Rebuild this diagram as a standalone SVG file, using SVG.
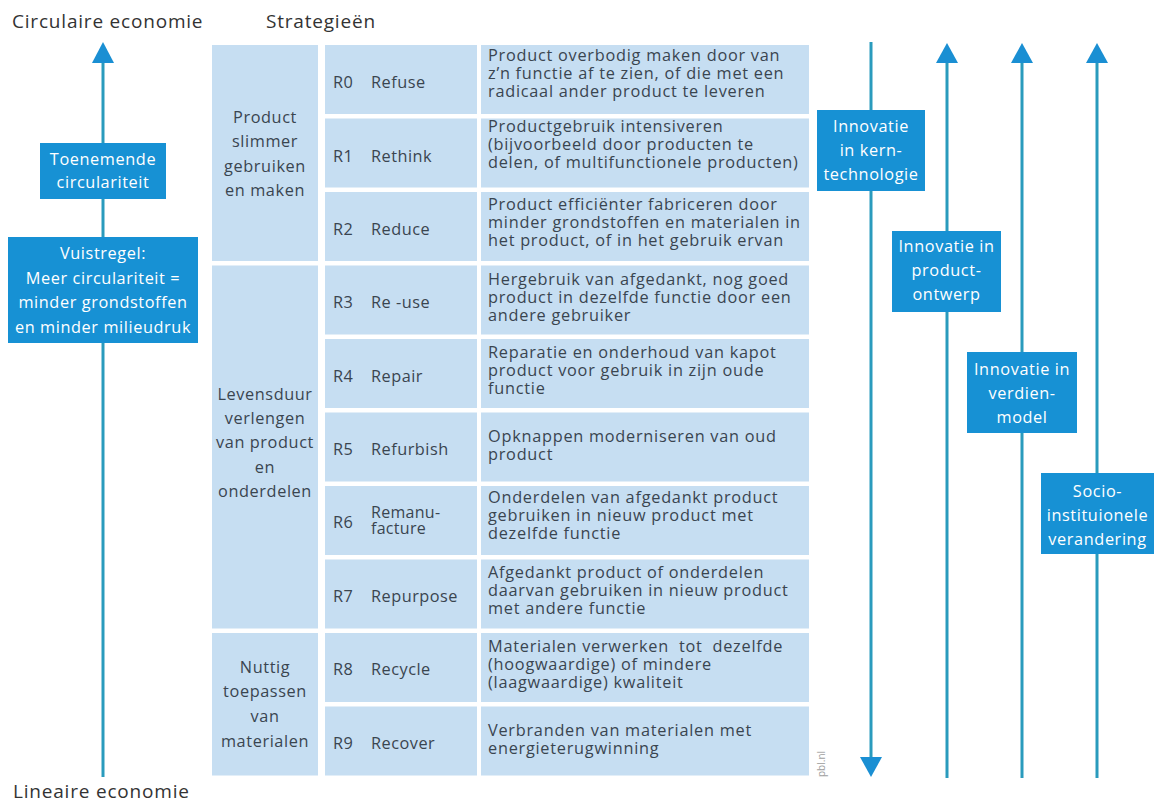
<svg xmlns="http://www.w3.org/2000/svg" width="1173" height="803" viewBox="0 0 1173 803">
<style>
text{font-family:"Open Sans","Noto Sans","DejaVu Sans",sans-serif}
.hdr{font-size:19px;letter-spacing:0.8px;fill:#333}
.cell{fill:#c6def2}
.grp{font-size:16.3px;letter-spacing:0.6px;fill:#3a4550;text-anchor:middle}
.rl{font-size:16.3px;letter-spacing:0.5px;fill:#3a4550}
.rl2{font-size:16px;letter-spacing:0.3px;fill:#3a4550}
.ds{font-size:16.3px;letter-spacing:0.75px;fill:#3a4550}
.box{fill:#1791d4}
.bt{font-size:16.3px;letter-spacing:0.6px;fill:#fff;text-anchor:middle}
.ln{stroke:#2a9bbd;stroke-width:3;fill:none}
.hd{fill:#1a8fd3}
</style>
<rect width="1173" height="803" fill="#fff"/>
<text class="hdr" x="12" y="28">Circulaire economie</text>
<text class="hdr" x="266" y="28">Strategieën</text>
<text class="hdr" x="13" y="798">Lineaire economie</text>

<g id="connectors">
<line class="ln" x1="103" y1="60" x2="103" y2="777"/>
<polygon class="hd" points="92,63 114,63 103,42"/>
<line class="ln" x1="871" y1="42" x2="871" y2="760"/>
<polygon class="hd" points="860,757 882,757 871,777"/>
<line class="ln" x1="947" y1="60" x2="947" y2="778"/>
<polygon class="hd" points="936,63 958,63 947,43"/>
<line class="ln" x1="1022" y1="60" x2="1022" y2="778"/>
<polygon class="hd" points="1011,63 1033,63 1022,43"/>
<line class="ln" x1="1097" y1="60" x2="1097" y2="778"/>
<polygon class="hd" points="1086,63 1108,63 1097,43"/>
</g>

<g id="toenemende">
<rect class="box" x="40" y="143" width="126" height="56"/>
<text class="bt" x="103" y="165">Toenemende<tspan x="103" dy="23">circulariteit</tspan></text>
</g>
<g id="vuistregel">
<rect class="box" x="8" y="237" width="190" height="106"/>
<text class="bt" x="103" y="259">Vuistregel:<tspan x="103" dy="25">Meer circulariteit =</tspan><tspan x="103" dy="24">minder grondstoffen</tspan><tspan x="103" dy="25">en minder milieudruk</tspan></text>
</g>

<g id="group-slimmer">
<rect class="cell" x="212" y="45" width="106" height="216"/>
<text class="grp" x="265" y="123">Product<tspan x="265" dy="24">slimmer</tspan><tspan x="265" dy="25">gebruiken</tspan><tspan x="265" dy="24">en maken</tspan></text>
</g>
<g id="group-levensduur">
<rect class="cell" x="212" y="265.5" width="106" height="363"/>
<text class="grp" x="265" y="400">Levensduur<tspan x="265" dy="24">verlengen</tspan><tspan x="265" dy="24">van product</tspan><tspan x="265" dy="25">en</tspan><tspan x="265" dy="24">onderdelen</tspan></text>
</g>
<g id="group-nuttig">
<rect class="cell" x="212" y="633" width="106" height="142.5"/>
<text class="grp" x="265" y="673">Nuttig<tspan x="265" dy="24">toepassen</tspan><tspan x="265" dy="25">van</tspan><tspan x="265" dy="25">materialen</tspan></text>
</g>

<g id="r0">
<rect class="cell" x="325" y="45" width="152" height="69"/>
<rect class="cell" x="481" y="45" width="328" height="69"/>
<text class="rl" x="333" y="88">R0<tspan x="371">Refuse</tspan></text>
<text class="ds" x="488" y="61">Product overbodig maken door van<tspan x="488" dy="18">z’n functie af te zien, of die met een</tspan><tspan x="488" dy="18">radicaal ander product te leveren</tspan></text>
</g>
<g id="r1">
<rect class="cell" x="325" y="118.5" width="152" height="69"/>
<rect class="cell" x="481" y="118.5" width="328" height="69"/>
<text class="rl" x="333" y="162">R1<tspan x="371">Rethink</tspan></text>
<text class="ds" x="488" y="132">Productgebruik intensiveren<tspan x="488" dy="18">(bijvoorbeeld door producten te</tspan><tspan x="488" dy="18">delen, of multifunctionele producten)</tspan></text>
</g>
<g id="r2">
<rect class="cell" x="325" y="192" width="152" height="69"/>
<rect class="cell" x="481" y="192" width="328" height="69"/>
<text class="rl" x="333" y="235">R2<tspan x="371">Reduce</tspan></text>
<text class="ds" x="488" y="210">Product efficiënter fabriceren door<tspan x="488" dy="18">minder grondstoffen en materialen in</tspan><tspan x="488" dy="18">het product, of in het gebruik ervan</tspan></text>
</g>
<g id="r3">
<rect class="cell" x="325" y="265.5" width="152" height="69"/>
<rect class="cell" x="481" y="265.5" width="328" height="69"/>
<text class="rl" x="333" y="308">R3<tspan x="371">Re -use</tspan></text>
<text class="ds" x="488" y="285">Hergebruik van afgedankt, nog goed<tspan x="488" dy="18">product in dezelfde functie door een</tspan><tspan x="488" dy="18">andere gebruiker</tspan></text>
</g>
<g id="r4">
<rect class="cell" x="325" y="339" width="152" height="69"/>
<rect class="cell" x="481" y="339" width="328" height="69"/>
<text class="rl" x="333" y="382">R4<tspan x="371">Repair</tspan></text>
<text class="ds" x="488" y="358">Reparatie en onderhoud van kapot<tspan x="488" dy="18">product voor gebruik in zijn oude</tspan><tspan x="488" dy="18">functie</tspan></text>
</g>
<g id="r5">
<rect class="cell" x="325" y="412.5" width="152" height="69"/>
<rect class="cell" x="481" y="412.5" width="328" height="69"/>
<text class="rl" x="333" y="455">R5<tspan x="371">Refurbish</tspan></text>
<text class="ds" x="488" y="442">Opknappen moderniseren van oud<tspan x="488" dy="18">product</tspan></text>
</g>
<g id="r6">
<rect class="cell" x="325" y="486" width="152" height="69"/>
<rect class="cell" x="481" y="486" width="328" height="69"/>
<text class="rl" x="333" y="528">R6</text>
<text class="rl2" x="371" y="518">Remanu-<tspan x="371" dy="16">facture</tspan></text>
<text class="ds" x="488" y="503">Onderdelen  van afgedankt product<tspan x="488" dy="18">gebruiken in nieuw product met</tspan><tspan x="488" dy="18">dezelfde functie</tspan></text>
</g>
<g id="r7">
<rect class="cell" x="325" y="559.5" width="152" height="69"/>
<rect class="cell" x="481" y="559.5" width="328" height="69"/>
<text class="rl" x="333" y="602">R7<tspan x="371">Repurpose</tspan></text>
<text class="ds" x="488" y="578">Afgedankt product of onderdelen<tspan x="488" dy="18">daarvan gebruiken in nieuw product</tspan><tspan x="488" dy="18">met andere functie</tspan></text>
</g>
<g id="r8">
<rect class="cell" x="325" y="633" width="152" height="69"/>
<rect class="cell" x="481" y="633" width="328" height="69"/>
<text class="rl" x="333" y="675">R8<tspan x="371">Recycle</tspan></text>
<text class="ds" x="488" y="652" xml:space="preserve">Materialen verwerken  tot  dezelfde<tspan x="488" dy="18">(hoogwaardige) of mindere</tspan><tspan x="488" dy="18">(laagwaardige) kwaliteit</tspan></text>
</g>
<g id="r9">
<rect class="cell" x="325" y="706.5" width="152" height="69"/>
<rect class="cell" x="481" y="706.5" width="328" height="69"/>
<text class="rl" x="333" y="749">R9<tspan x="371">Recover</tspan></text>
<text class="ds" x="488" y="736">Verbranden van materialen met<tspan x="488" dy="18">energieterugwinning</tspan></text>
</g>

<text x="825" y="777" transform="rotate(-90 825 777)" font-size="10" fill="#a0a0a0">pbl.nl</text>

<g id="kerntechnologie">
<rect class="box" x="817" y="110" width="108" height="81"/>
<text class="bt" x="871" y="132">Innovatie<tspan x="871" dy="24">in kern-</tspan><tspan x="871" dy="24">technologie</tspan></text>
</g>
<g id="productontwerp">
<rect class="box" x="892" y="231" width="109" height="81"/>
<text class="bt" x="946.5" y="252">Innovatie in<tspan x="946.5" dy="24">product-</tspan><tspan x="946.5" dy="24">ontwerp</tspan></text>
</g>
<g id="verdienmodel">
<rect class="box" x="967" y="352" width="110" height="81"/>
<text class="bt" x="1022" y="375">Innovatie in<tspan x="1022" dy="24">verdien-</tspan><tspan x="1022" dy="24">model</tspan></text>
</g>
<g id="socio">
<rect class="box" x="1041" y="473" width="113" height="81"/>
<text class="bt" x="1097.5" y="497">Socio-<tspan x="1097.5" dy="24">instituionele</tspan><tspan x="1097.5" dy="24">verandering</tspan></text>
</g>
</svg>
